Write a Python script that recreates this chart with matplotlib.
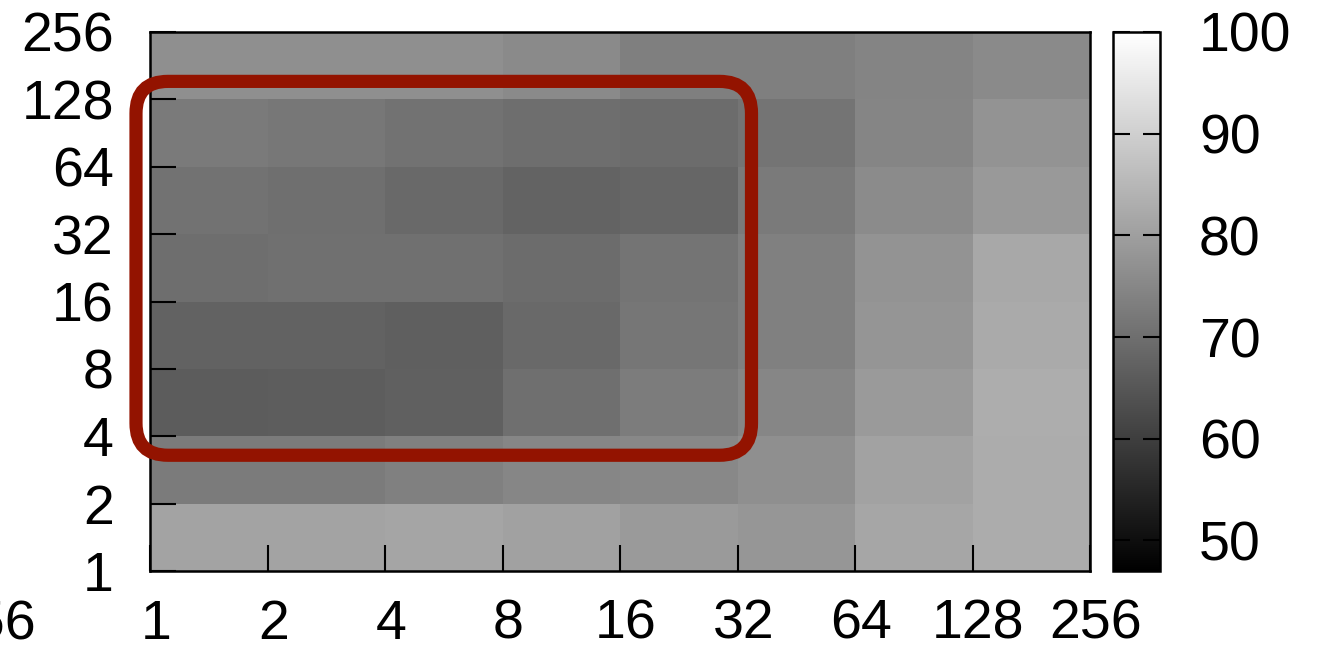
import matplotlib
matplotlib.use("Agg")
import matplotlib.pyplot as plt
import numpy as np
from matplotlib.patches import FancyBboxPatch
from matplotlib.transforms import IdentityTransform, ScaledTranslation

plt.rcParams['font.family'] = ['Liberation Sans', 'DejaVu Sans']

# tick labels (cell boundaries, powers of two)
x_labels = ['1', '2', '4', '8', '16', '32', '64', '128', '256']
y_labels = ['1', '2', '4', '8', '16', '32', '64', '128', '256']

# cell values, rows from bottom (1-2) to top (128-256)
values = np.array([
    [80.9, 80.9, 81.3, 80.5, 79.0, 78.2, 81.5, 82.7],
    [72.6, 72.6, 73.6, 74.8, 75.3, 76.7, 80.7, 82.7],
    [66.1, 66.3, 67.0, 70.1, 72.8, 74.8, 79.0, 82.9],
    [67.4, 67.4, 66.7, 68.8, 71.5, 73.6, 78.0, 82.3],
    [69.9, 70.3, 70.3, 69.4, 71.1, 73.6, 77.5, 81.9],
    [70.7, 70.1, 68.8, 67.6, 68.2, 72.4, 75.9, 78.8],
    [72.4, 71.7, 70.7, 69.9, 69.4, 71.1, 74.6, 77.5],
    [76.7, 76.7, 76.7, 75.7, 73.4, 73.4, 74.4, 75.7],
])
cbar_ticks = [50, 60, 70, 80, 90, 100]

# highlighted block: columns 1..32, rows 4..128 (in cell index units)
box_cols = (0, 5)
box_rows = (2, 7)

W, H = 1331, 651
fig = plt.figure(figsize=(W / 100, H / 100), dpi=100)
ax = fig.add_axes([150 / W, 80 / H, 940 / W, 539 / H])
cax = fig.add_axes([1113 / W, 80 / H, 47 / W, 539 / H])

mesh = ax.pcolormesh(np.arange(9), np.arange(9), values, cmap='gray',
                     vmin=47, vmax=100)
ax.set_xlim(0, 8)
ax.set_ylim(0, 8)
ax.set_xticks(np.arange(9))
ax.set_xticklabels(x_labels)
ax.set_yticks(np.arange(9))
ax.set_yticklabels(y_labels)
ax.tick_params(direction='in', length=19, width=1.5, labelsize=40)
ax.tick_params(axis='x', pad=20)
ax.tick_params(axis='y', pad=26)
for s in ax.spines.values():
    s.set_linewidth(1.8)
# x labels sit a little right of their ticks in the original
shift = ScaledTranslation(6 / 100, 0, fig.dpi_scale_trans)
for lbl in ax.get_xticklabels():
    lbl.set_transform(lbl.get_transform() + shift)

cb = fig.colorbar(mesh, cax=cax, ticks=cbar_ticks)
cb.outline.set_linewidth(1.8)
cax.tick_params(direction='in', length=12, width=1.5, left=True, right=True,
                labelsize=40, pad=28)

# rounded red highlight around the dark block
(x0, y0) = ax.transData.transform((box_cols[0], box_rows[0]))
(x1, y1) = ax.transData.transform((box_cols[1], box_rows[1]))
box = FancyBboxPatch((x0 - 14, y0 - 19), (x1 - x0) + 14 + 14, (y1 - y0) + 19 + 18,
                     boxstyle='round,pad=0,rounding_size=32',
                     transform=IdentityTransform(), fill=False,
                     edgecolor='#931300', linewidth=9.5, clip_on=False)
fig.add_artist(box)

# clipped label from the neighbouring panel
fig.text(36 / W, 26 / H, '256', ha='right', va='center', fontsize=40)

fig.savefig('out.png', dpi=100)
